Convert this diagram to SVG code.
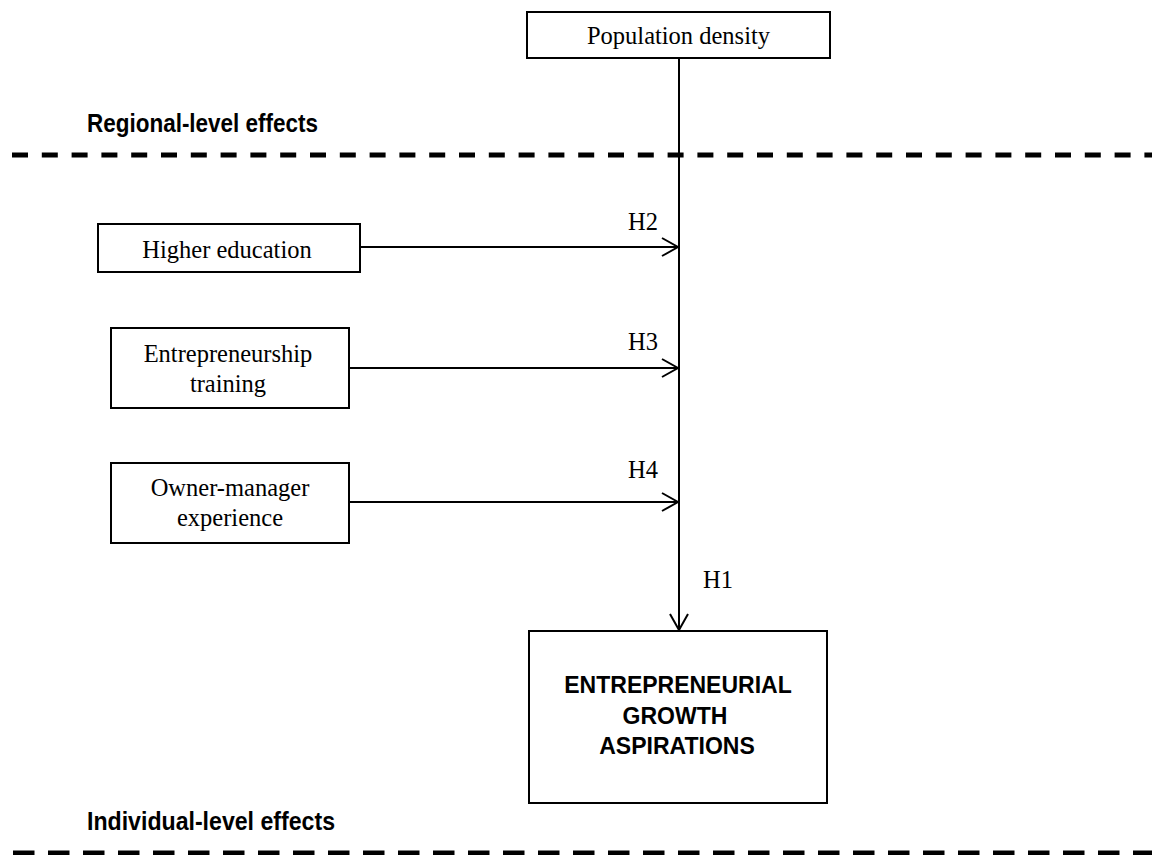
<svg xmlns="http://www.w3.org/2000/svg" width="1152" height="855" viewBox="0 0 1152 855">
<style>
.box{fill:#fff;stroke:#000;stroke-width:2}
.serif{font-family:"Liberation Serif","Times New Roman",serif;font-size:24.5px;fill:#000}
.bold{font-family:"Liberation Sans",Arial,sans-serif;font-weight:bold;fill:#000}
.conn{stroke:#000;stroke-width:2;fill:none}
.dash{stroke:#000;stroke-width:5;fill:none}
</style>
<defs>
<marker id="arr" markerUnits="userSpaceOnUse" markerWidth="20" markerHeight="22" viewBox="0 0 20 22" refX="18" refY="11" orient="auto">
<path d="M2,2 L18,11 L2,20" fill="none" stroke="#000" stroke-width="2"/>
</marker>
</defs>
<rect width="1152" height="855" fill="#fff"/>

<g id="regional-label">
<text class="bold" x="87" y="132" font-size="25" textLength="231" lengthAdjust="spacingAndGlyphs">Regional-level effects</text>
<line class="dash" x1="12" y1="155" x2="1152" y2="155" stroke-dasharray="16 13.8"/>
</g>

<g id="individual-label">
<text class="bold" x="87" y="830" font-size="25" textLength="248" lengthAdjust="spacingAndGlyphs">Individual-level effects</text>
<line class="dash" x1="13" y1="853" x2="1152" y2="853" stroke-dasharray="21.5 13.5"/>
</g>

<g id="connectors">
<line class="conn" x1="679" y1="58" x2="679" y2="630" marker-end="url(#arr)"/>
<line class="conn" x1="360" y1="247" x2="678" y2="247" marker-end="url(#arr)"/>
<line class="conn" x1="349" y1="368" x2="678" y2="368" marker-end="url(#arr)"/>
<line class="conn" x1="349" y1="502" x2="678" y2="502" marker-end="url(#arr)"/>
<text class="serif" x="628" y="230" font-size="24">H2</text>
<text class="serif" x="628" y="350" font-size="24">H3</text>
<text class="serif" x="628" y="478" font-size="24">H4</text>
<text class="serif" x="703" y="588" font-size="24">H1</text>
</g>

<g id="population-density">
<rect class="box" x="527" y="12" width="303" height="46"/>
<text class="serif" x="678.5" y="44" text-anchor="middle">Population density</text>
</g>

<g id="higher-education">
<rect class="box" x="98" y="224" width="262" height="48"/>
<text class="serif" x="227" y="258" text-anchor="middle">Higher education</text>
</g>

<g id="entrepreneurship-training">
<rect class="box" x="111" y="328" width="238" height="80"/>
<text class="serif" x="228" y="362" text-anchor="middle">Entrepreneurship</text>
<text class="serif" x="228" y="392" text-anchor="middle">training</text>
</g>

<g id="owner-manager-experience">
<rect class="box" x="111" y="463" width="238" height="80"/>
<text class="serif" x="230" y="496" text-anchor="middle">Owner-manager</text>
<text class="serif" x="230" y="526" text-anchor="middle">experience</text>
</g>

<g id="growth-aspirations">
<rect class="box" x="529" y="631" width="298" height="172"/>
<text class="bold" x="678" y="693" font-size="23" text-anchor="middle">ENTREPRENEURIAL</text>
<text class="bold" x="675" y="724" font-size="23" text-anchor="middle">GROWTH</text>
<text class="bold" x="677" y="754" font-size="23" text-anchor="middle">ASPIRATIONS</text>
</g>
</svg>
